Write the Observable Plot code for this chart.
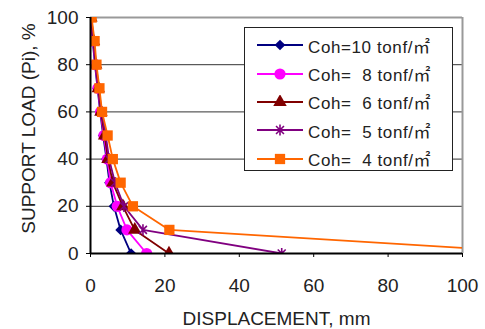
<!DOCTYPE html>
<html>
<head>
<meta charset="utf-8">
<script src="https://cdn.jsdelivr.net/npm/d3@7"></script>
<script src="https://cdn.jsdelivr.net/npm/@observablehq/plot@0.6"></script>
<style>
  body { margin: 0; background: #fff; }
  #chart { position: relative; width: 485px; height: 329px; font-family: "Liberation Sans", Arial, "Noto Sans CJK KR", sans-serif; }
  #legend {
    position: absolute; left: 244px; top: 27px; width: 209px; height: 144px;
    box-sizing: border-box; border: 1.5px solid #222; background: #fff;
    padding-top: 3px;
  }
  .row { display: flex; align-items: center; height: 28.4px; }
  .row svg { margin-left: 12px; flex: none; }
  .row span {
    margin-left: 5px; font-size: 17px; color: #222; white-space: pre;
    font-family: "Liberation Sans", Arial, "Noto Sans CJK KR", sans-serif; letter-spacing: 0.6px;
  }
</style>
</head>
<body>
<div id="chart"></div>
<script>
// Support load levels (%) shared by every curve
const supportLoad = [100, 90, 80, 70, 60, 50, 40, 30, 20, 10, 0];

// Displacement (mm) at each support load level, one array per cohesion
const coh10 = [0.0, 0.6, 1.2, 1.9, 2.6, 3.4, 4.3, 5.1, 6.3, 8.1, 10.9];
const coh8  = [0.0, 0.7, 1.3, 2.0, 2.7, 3.6, 4.5, 5.4, 7.2, 9.8, 15.1];
const coh6  = [0.1, 0.8, 1.4, 2.1, 2.8, 3.8, 4.7, 6.0, 8.7, 11.9, 21.1];
const coh5  = [0.2, 0.9, 1.5, 2.2, 3.0, 4.1, 5.0, 6.6, 9.0, 14.1, 51.4];
const coh4  = [0.3, 1.1, 1.6, 2.4, 3.1, 4.6, 6.0, 8.1, 11.4, 21.2, 124];

const seriesNames = ["Coh=10 tonf/㎡", "Coh=  8 tonf/㎡", "Coh=  6 tonf/㎡", "Coh=  5 tonf/㎡", "Coh=  4 tonf/㎡"];
const seriesValues = [coh10, coh8, coh6, coh5, coh4];
const seriesColors = ["#000080", "#ff00ff", "#800000", "#800080", "#ff6600"];
const xTicks = [0, 20, 40, 60, 80, 100];
const yTicks = [0, 20, 40, 60, 80, 100];
const xTitle = "DISPLACEMENT, mm";
const yTitle = "SUPPORT LOAD (Pi), %";

// Six-armed star marker: a vertical bar crossed by an X
const star = {
  draw(context, size) {
    const r = Math.sqrt(size / Math.PI);
    const d = r * Math.SQRT1_2;
    context.moveTo(0, -r); context.lineTo(0, r);
    context.moveTo(-d, -d); context.lineTo(d, d);
    context.moveTo(-d, d); context.lineTo(d, -d);
  }
};
const seriesSymbols = ["diamond2", "circle", "triangle", star, "square"];
const seriesRadius = [4.8, 5.6, 5.0, 5.6, 5.8];

const series = seriesNames.map((name, k) => ({
  name,
  color: seriesColors[k],
  symbol: seriesSymbols[k],
  r: seriesRadius[k],
  rows: supportLoad.map((p, i) => ({ disp: seriesValues[k][i], load: p }))
}));

const marks = [
  Plot.gridY([20, 40, 60, 80], { stroke: "#333", strokeOpacity: 1, strokeWidth: 1 }),
  Plot.ruleY([100], { stroke: "#999", strokeWidth: 2 }),
  Plot.ruleX([100], { stroke: "#999", strokeWidth: 2 })
];
for (const s of series) {
  marks.push(Plot.line(s.rows, { x: "disp", y: "load", stroke: s.color, strokeWidth: 1.8, clip: true }));
  const hollow = s.symbol === star;
  marks.push(Plot.dot(s.rows, {
    x: "disp", y: "load", r: s.r, symbol: () => s.symbol,
    fill: hollow ? "none" : s.color, stroke: hollow ? s.color : "none",
    strokeWidth: hollow ? 1.6 : 0, clip: true
  }));
}
marks.push(
  Plot.axisX({ ticks: xTicks, tickSize: 4, tickPadding: 21, stroke: "#000", label: null }),
  Plot.axisY({ ticks: yTicks, tickSize: 4, tickPadding: 8, stroke: "#000", label: null }),
  Plot.text([xTitle], { frameAnchor: "bottom", textAnchor: "middle", dy: 71, fontSize: 19, fill: "#222" }),
  Plot.text([yTitle], { frameAnchor: "left", textAnchor: "middle", rotate: -90, dx: -62, dy: -7, fontSize: 19, fill: "#222" }),
  Plot.ruleX([0], { stroke: "#000", strokeWidth: 2 }),
  Plot.ruleY([0], { stroke: "#000", strokeWidth: 2 })
);

const plot = Plot.plot({
  width: 485,
  height: 329,
  marginLeft: 90,
  marginRight: 23,
  marginTop: 17,
  marginBottom: 76,
  style: { fontSize: "19px", fontFamily: "Liberation Sans, Arial, sans-serif", color: "#222", background: "#fff" },
  x: { domain: [0, 100] },
  y: { domain: [0, 100] },
  marks
});
const chart = document.getElementById("chart");
chart.appendChild(plot);

// Legend box with line-and-marker swatches
const legend = document.createElement("div");
legend.id = "legend";
for (const s of series) {
  const row = document.createElement("div");
  row.className = "row";
  const sw = d3.create("svg").attr("width", 46).attr("height", 14);
  sw.append("line").attr("x1", 0).attr("x2", 46).attr("y1", 7).attr("y2", 7)
    .attr("stroke", s.color).attr("stroke-width", 1.8);
  const symType = s.symbol === star ? star : {
    diamond2: d3.symbolDiamond2, circle: d3.symbolCircle, triangle: d3.symbolTriangle, square: d3.symbolSquare
  }[s.symbol];
  const path = d3.symbol(symType, Math.PI * s.r * s.r)();
  const hollow = s.symbol === star;
  sw.append("path").attr("d", path).attr("transform", "translate(23,7)")
    .attr("fill", hollow ? "none" : s.color).attr("stroke", hollow ? s.color : "none")
    .attr("stroke-width", hollow ? 1.6 : 0);
  row.appendChild(sw.node());
  const label = document.createElement("span");
  label.textContent = s.name;
  row.appendChild(label);
  legend.appendChild(row);
}
chart.appendChild(legend);
</script>
</body>
</html>
